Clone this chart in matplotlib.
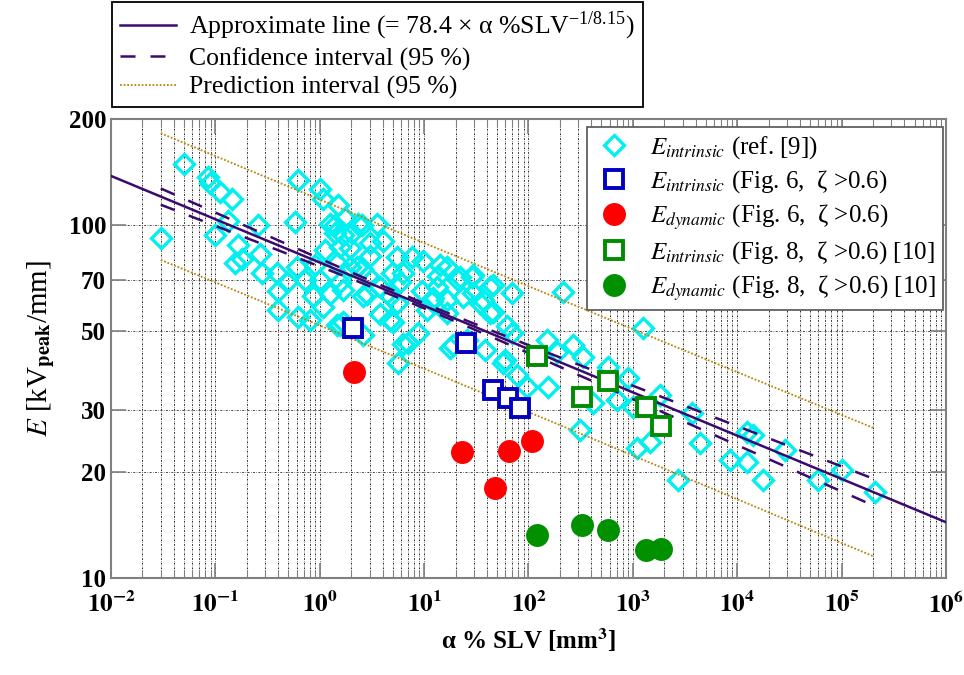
import numpy as np
import matplotlib.pyplot as plt
from matplotlib.ticker import LogLocator, NullLocator, NullFormatter

plt.rcParams['font.family'] = ['Liberation Serif', 'DejaVu Serif']
plt.rcParams['mathtext.fontset'] = 'stix'

# E_intrinsic (ref. [9])
ref_x = [0.030, 0.050, 0.085, 0.089, 0.111, 0.144, 0.132, 0.099, 0.256, 0.165,
         0.154, 0.180, 0.267, 0.279, 0.389, 0.485, 0.398, 0.398, 0.618, 0.805,
         0.578, 0.618, 1.00, 1.07, 1.49, 1.25, 1.67, 2.32, 3.53, 4.03,
         3.03, 1.56, 1.46, 1.94, 5.49, 6.26, 2.90, 3.77, 4.70, 5.86,
         2.59, 1.67, 1.25, 1.00, 0.86, 1.07, 1.67, 3.77, 4.70, 6.26,
         0.605, 0.90, 0.72, 1.56, 1.46, 2.83, 4.91, 9.75, 13.6, 16.5,
         21.1, 5.49, 9.5, 11.9, 16.5, 23.5, 5.02, 7.0, 8.73, 17.7,
         5.61, 2.03, 1.40, 3.03, 2.27, 2.54, 1.74, 1.12, 1.40, 2.54,
         1.94, 29.3, 42.6, 29.3, 36.6, 45.6, 69.0, 214, 69.3, 59.4,
         38.2, 18.9, 77.5, 96.6, 150, 187, 266, 332, 153, 311,
         414, 576, 703, 896, 1000, 1247, 1092, 1455, 1815, 2698,
         4382, 3668, 8496, 12360, 17580, 12360, 14100, 28560, 59200, 100500,
         208000, 7.64, 14.2, 22.0, 28.7, 45.6, 13.3, 12.1, 34.2, 42.6,
         62.1, 10.6, 25.7, 2.59, 1.56, 16.5, 56.9]
ref_e = [92, 149, 137, 132, 124, 119, 103, 94, 100, 88,
         78, 80, 83, 73, 73, 69, 65, 57.5, 55, 54,
         102, 134, 127, 119, 114, 101, 94, 101, 101, 90,
         89, 87, 78, 76, 81, 73, 72, 67, 63, 69,
         63, 65.5, 64, 70, 63, 58.6, 53, 56, 54, 46,
         76, 77, 70, 69, 52, 64, 73, 79, 72, 76,
         70, 60, 65, 61, 61.4, 62.6, 53, 46.3, 49.5, 45,
         40.7, 95, 95, 82, 76, 75, 105, 85, 100, 100,
         86, 72.3, 66.8, 64.2, 61.4, 56.8, 64.2, 64.7, 49.5, 41.5,
         44.3, 45.7, 37.6, 34.8, 47.3, 43.7, 45.7, 42.3, 34.8, 26.3,
         31.3, 39.6, 31.9, 36.9, 30.5, 51.2, 23.4, 24.3, 33.0, 19.0,
         24.2, 29.3, 21.6, 21.3, 19.0, 25.9, 25.4, 23.1, 19.0, 20.2,
         17.5, 81.3, 77.1, 71.3, 71.3, 67.7, 66.8, 62.0, 60.2, 56.4,
         51.7, 57.5, 47.3, 48.9, 52.2, 56.4, 40.7]

# Fig. 6
fig6_x = [2.1, 25, 45.6, 63.5, 82.7]
fig6_intr = [51.2, 46.3, 34.1, 32.4, 30.3]
fig6_dyn_x = [2.15, 23, 47.6, 65, 108]
fig6_dyn = [38.4, 22.8, 18.0, 22.9, 24.4]

# Fig. 8 [10]
fig8_x = [120, 325, 576, 1330, 1855]
fig8_intr = [42.5, 32.6, 36.2, 30.5, 27.0]
fig8_dyn = [13.2, 14.1, 13.7, 12.0, 12.1]

# approximate line E = 78.4 * x^(-1/8.15) and 95 % bands (log10 half widths)
coef = 78.4
expo = -1 / 8.15
band_lx0 = 1.0
band_k = 0.66
band_c = 0.00868
pred_s = 0.178

xx = np.logspace(-2, 6, 200)
xb = np.logspace(np.log10(0.03), np.log10(2e5), 200)
fit = coef * xb ** expo
hc = band_c * np.sqrt(band_k + (np.log10(xb) - band_lx0) ** 2)
hp = np.sqrt(pred_s ** 2 + hc ** 2)

line_col = '#3c0a6e'
pred_col = '#b8860b'

fig = plt.figure(figsize=(9.64, 6.75), dpi=100)
ax = fig.add_axes([0.1151, 0.1437, 0.8662, 0.68])
ax.set_xscale('log')
ax.set_yscale('log')

l1, = ax.plot(xx, coef * xx ** expo, color=line_col, lw=1.8, zorder=4)
l2, = ax.plot(xb, fit * 10 ** hc, color=line_col, lw=1.8, ls=(0, (6, 6)), zorder=4)
ax.plot(xb, fit / 10 ** hc, color=line_col, lw=1.8, ls=(0, (6, 6)), zorder=4)
l3, = ax.plot(xb, fit * 10 ** hp, color=pred_col, lw=1.3, ls=(0, (1, 1)), zorder=4)
ax.plot(xb, fit / 10 ** hp, color=pred_col, lw=1.3, ls=(0, (1, 1)), zorder=4)

m1, = ax.plot(ref_x, ref_e, 'D', ms=10.5, mfc='none', mec='#00f0f0', mew=2.4,
              ls='none', zorder=3)
m2, = ax.plot(fig6_x, fig6_intr, 's', ms=13, mfc='white', mec='#0000c0', mew=2.8,
              ls='none', zorder=5)
m3, = ax.plot(fig6_dyn_x, fig6_dyn, 'o', ms=15.5, mfc='#ff0000', mec='#ff0000',
              ls='none', zorder=5)
m4, = ax.plot(fig8_x, fig8_intr, 's', ms=13, mfc='white', mec='#008c00', mew=2.8,
              ls='none', zorder=5)
m5, = ax.plot(fig8_x, fig8_dyn, 'o', ms=15.5, mfc='#009000', mec='#009000',
              ls='none', zorder=5)

ax.set_xlim(1e-2, 1e6)
ax.set_ylim(10, 200)

ax.xaxis.set_major_locator(LogLocator(base=10, numticks=20))
ax.xaxis.set_minor_locator(LogLocator(base=10, subs=np.arange(2, 10), numticks=20))
ax.xaxis.set_minor_formatter(NullFormatter())
xt = [10.0 ** k for k in range(-2, 7)]
ax.set_xticks(xt)
ax.set_xticklabels([r'$\mathbf{10^{%d}}$' % k for k in range(-2, 7)])

yt = [10, 20, 30, 50, 70, 100, 200]
ax.yaxis.set_minor_locator(NullLocator())
ax.set_yticks(yt)
ax.set_yticklabels([str(v) for v in yt])
for t in ax.get_yticklabels():
    t.set_fontweight('bold')

ax.tick_params(which='both', direction='in', top=True, right=True, color='#808080',
               labelsize=18)
ax.tick_params(which='major', length=11, width=1.2)
ax.tick_params(which='minor', length=6, width=0.8)
ax.tick_params(axis='x', pad=10)

ax.grid(True, which='both', axis='x', color='black', lw=0.6, ls=(0, (2, 1.5, 0.6, 1.5)))
ax.grid(True, which='major', axis='y', color='#444444', lw=0.7, ls=(0, (2, 1.5, 0.6, 1.5)))
ax.set_axisbelow(True)
for s in ax.spines.values():
    s.set_color('#808080')
    s.set_linewidth(1.5)

ax.set_xlabel('α % SLV [mm$^{\\mathbf{3}}$]', fontsize=18, fontweight='bold', labelpad=6)
ax.set_ylabel(r'$E$ [kV$_{\mathbf{peak}}$/mm]', fontsize=21, labelpad=8)

fig.legend([l1, l2, l3],
           [r'Approximate line (= 78.4 × α %SLV$^{\mathregular{-1/8.15}}$)',
            'Confidence interval (95 %)', 'Prediction interval (95 %)'],
           loc='upper left', bbox_to_anchor=(112 / 964, 1 - 2 / 675), fontsize=18.5,
           frameon=True, fancybox=False, edgecolor='black', framealpha=1,
           handlelength=2.2, handletextpad=0.5, labelspacing=0.2, borderpad=0.3,
           borderaxespad=0).get_frame().set_linewidth(1.3)

leg = ax.legend([m1, m2, m3, m4, m5],
                [r'$E_{intrinsic}$ (ref. [9])',
                 r'$E_{intrinsic}$ (Fig. 6,  ζ >0.6)',
                 r'$E_{dynamic}$ (Fig. 6,  ζ >0.6)',
                 r'$E_{intrinsic}$ (Fig. 8,  ζ >0.6) [10]',
                 r'$E_{dynamic}$ (Fig. 8,  ζ >0.6) [10]'],
                loc='upper right', bbox_to_anchor=(943 / 964, 1 - 127 / 675),
                bbox_transform=fig.transFigure, fontsize=18, frameon=True,
                fancybox=False, edgecolor='#606060', framealpha=1, borderaxespad=0,
                handlelength=1.5, handletextpad=0.7, labelspacing=0.28, borderpad=0.3)
leg.get_frame().set_linewidth(1.3)
leg.set_zorder(10)

fig.savefig('out.png', dpi=100)
